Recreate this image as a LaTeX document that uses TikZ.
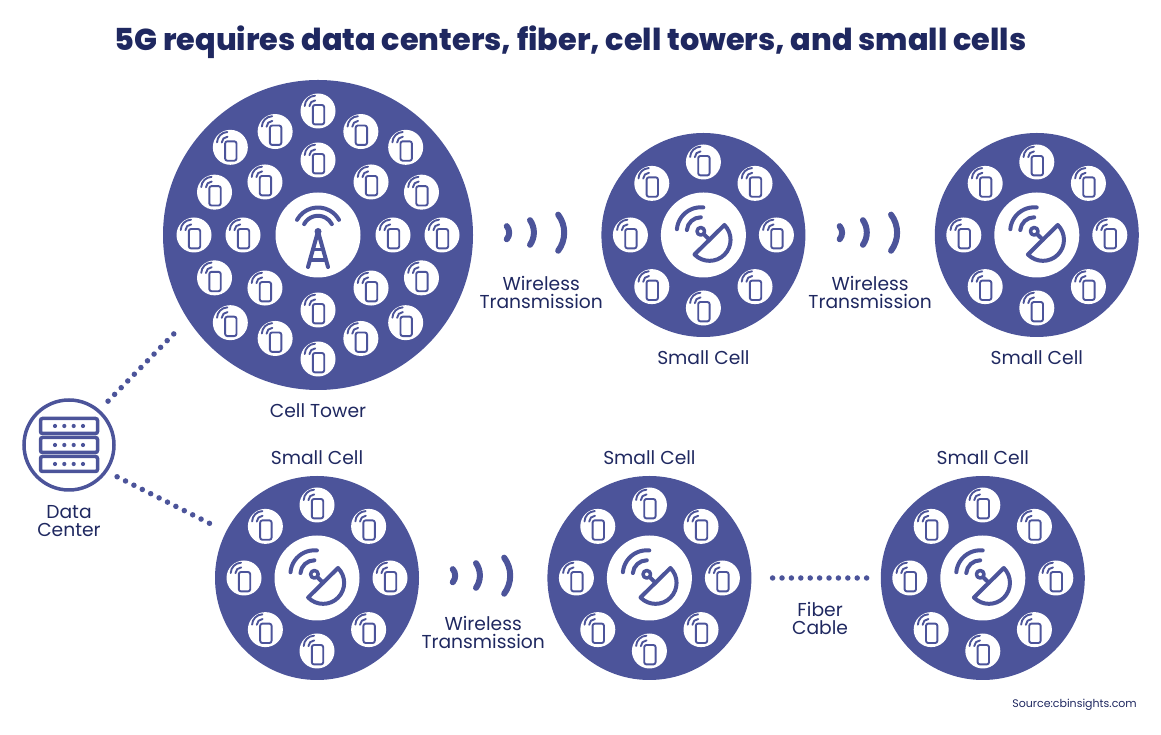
\documentclass[tikz,border=0pt]{standalone}
\usepackage{fontspec}
\usepackage{xcolor}
\usepackage{tikz}
\usetikzlibrary{arrows.meta,positioning,calc}
\setmainfont{Poppins}
\newfontfamily\titlefont{Poppins ExtraBold}
\definecolor{cellblue}{HTML}{4C549A}
\definecolor{inkblue}{HTML}{1F2860}
\tikzset{
  bigcell/.style={circle, fill=cellblue, inner sep=0pt, minimum size=310pt},
  smallcell/.style={circle, fill=cellblue, inner sep=0pt, minimum size=204pt},
  hub/.style={circle, fill=white, inner sep=0pt, minimum size=85pt},
  bubble/.style={circle, fill=white, inner sep=0pt, minimum size=35pt},
  icon/.style={draw=cellblue, line cap=round, line join=round},
  dots/.style={draw=cellblue, line width=5.5pt, line cap=round, dash pattern=on 0pt off 9.4pt},
  lbl/.style={text=inkblue, align=center, inner sep=0pt, text height=14pt, text depth=0pt, font=\fontsize{18.7}{18}\selectfont},
  lbltwo/.style={text=inkblue, align=center, inner sep=0pt, font=\fontsize{18.7}{18}\selectfont},
  phone/.pic={
    \draw[icon, line width=1.9pt, rounded corners=2.2pt] (-5.2,-13.4) rectangle (6.2,6);
    \draw[icon, line width=1.9pt] (-2.6,4.6) ++(178:6) arc[start angle=178, end angle=92, radius=6];
    \draw[icon, line width=1.9pt] (-2.6,4.6) ++(178:10.7) arc[start angle=178, end angle=92, radius=10.7];
  },
  dish/.pic={
    \draw[icon, line width=4pt] (-8.9,-19.5) -- (21,10) arc[start angle=45, end angle=-135, radius=21] -- cycle;
    \draw[icon, line width=4pt] (6,-4.7) -- (-2.6,3.7);
    \draw[icon, line width=3.5pt, fill=white] (-2.6,3.7) circle (3.8);
    \draw[icon, line width=4pt] (-2.6,3.7) ++(175:14) arc[start angle=175, end angle=90, radius=14];
    \draw[icon, line width=4pt] (-2.6,3.7) ++(175:24) arc[start angle=175, end angle=84, radius=24];
  },
  mast/.pic={
    \draw[icon, line width=4pt] (0,3.5) ++(151:24) arc[start angle=151, end angle=29, radius=24];
    \draw[icon, line width=4pt] (0,3.5) ++(152:15.7) arc[start angle=152, end angle=28, radius=15.7];
    \fill[cellblue] (0,3.5) circle (3.5);
    \draw[icon, line width=4pt] (-10,-32) -- (0,3.5) -- (10,-32);
    \draw[icon, line width=3.5pt] (-5,-14.5) -- (5,-14.5);
    \draw[icon, line width=3.5pt] (-7.5,-25) -- (7.5,-25);
  },
  wave/.pic={
    \draw[icon, line width=6pt] (-38,2.3) ++(-41:10) arc[start angle=-41, end angle=41, radius=10];
    \draw[icon, line width=6pt] (-24.8,2.5) ++(-35:21.5) arc[start angle=-35, end angle=35, radius=21.5];
    \draw[icon, line width=6pt] (-3,2.3) ++(-37:30) arc[start angle=-37, end angle=37, radius=30];
  }
}
\newcommand{\phonebubble}[3]{
  \node[bubble] (#1) at (#2) {};
  \pic at (#1) {phone};
}
\newcommand{\smallring}[1]{
  \foreach \a [count=\i] in {0,45,...,315}
    \phonebubble{#1-\i}{$(#1)+(\a:73)$}{};
  \node[hub] (#1-hub) at (#1) {};
  \pic at (#1-hub) {dish};
}
\begin{document}
\begin{tikzpicture}[x=1pt, y=1pt, node distance=128pt]
    \useasboundingbox (0,0) rectangle (1161,735);
    \node[text=inkblue, inner sep=0pt, font=\fontsize{30.3}{36}\titlefont] (title) at (570.5,693) {5G requires data centers, fiber, cell towers, and small cells};

    \node[bigcell] (tower) at (318,500) {};
    \node[smallcell, right=of tower] (cella) {};
    \node[smallcell, right=129pt of cella] (cellb) {};
    \node[smallcell] (cellc) at (317,157) {};
    \node[smallcell, right=of cellc] (celld) {};
    \node[smallcell, right=129pt of celld] (celle) {};

    \foreach \a [count=\i] in {0,45,...,315}
      \phonebubble{tower-o\i}{$(tower)+(\a:124)$}{};
    \foreach \a [count=\i] in {22.5,67.5,...,337.5}
      \phonebubble{tower-m\i}{$(tower)+(\a:112)$}{};
    \foreach \a [count=\i] in {0,45,...,315}
      \phonebubble{tower-n\i}{$(tower)+(\a:75)$}{};
    \node[hub] (tower-hub) at (tower) {};
    \pic at (tower-hub) {mast};

    \smallring{cella}
    \smallring{cellb}
    \smallring{cellc}
    \smallring{celld}
    \smallring{celle}

    % data center
    \node[circle, draw=cellblue, line width=3.5pt, inner sep=0pt, minimum size=90pt] (dc) at (69,290) {};
    \foreach \y [count=\i] in {19,0,-19} {
      \node[draw=cellblue, line width=3.5pt, rounded corners=2pt, inner sep=0pt, minimum width=57pt, minimum height=15pt] (rack\i) at ($(dc)+(0,\y)$) {};
      \foreach \x in {-14,-4.7,4.7,14}
        \fill[cellblue] ($(rack\i)+(\x,0)$) circle (2.1);
    }

    \draw[dots, shorten <=12pt, shorten >=16pt] (dc.49) -- (tower.213);
    \draw[dots, shorten <=11pt, shorten >=14pt] (dc.325) -- (cellc.153);
    \draw[dots, shorten <=21pt, shorten >=12pt] (celld.east) -- (celle.west);

    \coordinate (wv1) at ($(tower.east)!0.5!(cella.west)$);
    \coordinate (wv2) at ($(cella.east)!0.5!(cellb.west)$);
    \coordinate (wv3) at ($(cellc.east)!0.5!(celld.west)$);
    \pic at (wv1) {wave};
    \pic at (wv2) {wave};
    \pic at (wv3) {wave};

    \node[lbl, below=13pt of tower] (towerlbl) {Cell Tower};
    \node[lbl, below=13pt of cella] (cellalbl) {Small Cell};
    \node[lbl, below=13pt of cellb] (cellblbl) {Small Cell};
    \node[lbl, above=11pt of cellc] (cellclbl) {Small Cell};
    \node[lbl, above=11pt of celld] (celldlbl) {Small Cell};
    \node[lbl, above=11pt of celle] (cellelbl) {Small Cell};

    \node[lbltwo, below=41pt of wv1, xshift=4pt] (wl1) {Wireless\\Transmission};
    \node[lbltwo, below=41pt of wv2] (wl2) {Wireless\\Transmission};
    \node[lbltwo, below=38pt of wv3] (wl3) {Wireless\\Transmission};
    \node[lbltwo, below=24pt of $(celld.east)!0.5!(celle.west)$, xshift=4pt] (fiberlbl) {Fiber\\Cable};
    \node[lbltwo, below=14pt of dc] (dclbl) {Data\\Center};
    \node[text=inkblue, inner sep=0pt, anchor=east, font=\fontsize{11}{12}\selectfont] (source) at (1137,30) {Source:cbinsights.com};
\end{tikzpicture}
\end{document}
